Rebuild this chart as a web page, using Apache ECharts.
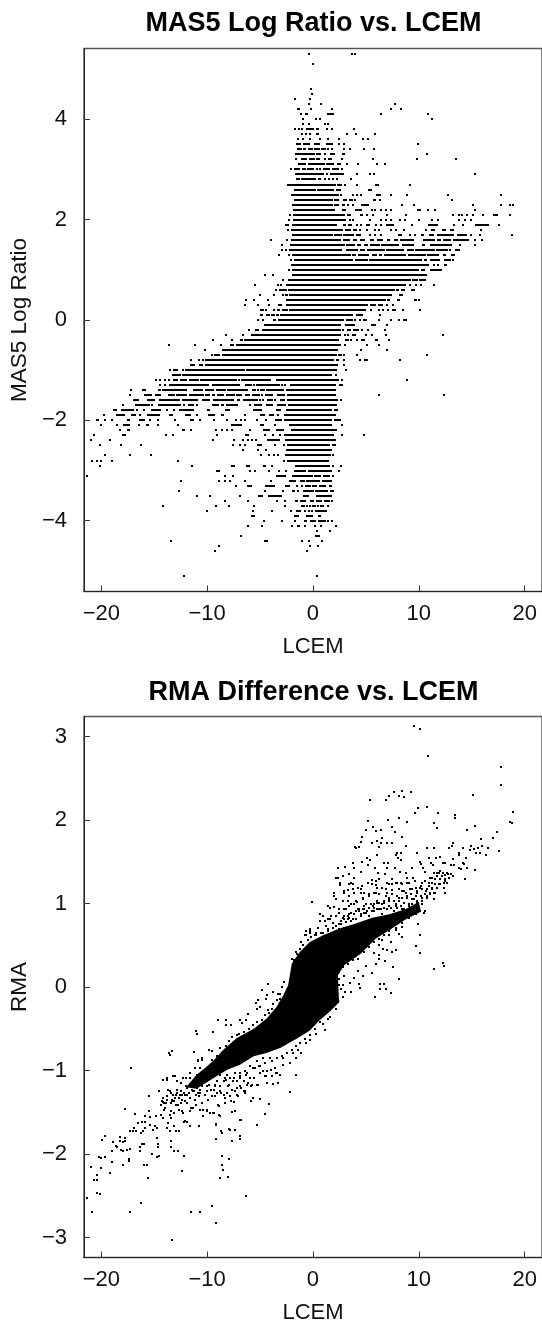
<!DOCTYPE html>
<html>
<head>
<meta charset="utf-8">
<title>MAS5 and RMA vs. LCEM</title>
<script src="https://cdn.jsdelivr.net/npm/echarts@6/dist/echarts.min.js"></script>
<style>
  html, body { margin: 0; padding: 0; background: #fff; }
  #chart { width: 542px; height: 1325px; }
</style>
</head>
<body>
<div id="chart"></div>
<script>
const xTicks = [-20, -10, 0, 10, 20];
const topYTicks = [-4, -2, 0, 2, 4];
const bottomYTicks = [-3, -2, -1, 0, 1, 2, 3];

// top panel: log ratios come in 0.1 steps, so every row is [level, from, to, from, to, ...]
const topStripes = [
  [4.2, -1.5, -1.25], [4.1, -0.8, -0.45, 1.3, 1.95],
  [3.8, -0.7, 0.05, 0.25, 0.55], [3.7, 0.25, 0.55],
  [3.5, -1.6, -1.15, -0.95, -0.3, 0.05, 0.7, 1.25, 1.9],
  [3.4, -1.55, -1.05, -0.95, -0.65, -0.5, 0, 0.05, 0.7, 0.8, 1.2, 2.8, 3.05],
  [3.3, -1.7, 0.15, 0.25, 0.55, 1.65, 2.05, 2.7, 3],
  [3.2, -1.7, -1.55, -1.15, -0.6, -0.4, 0.15, 0.25, 0.7, 1, 1.25, 1.45, 1.75],
  [3.1, -1.45, -0.65, -0.5, 1.1, 1.2, 1.95, 2.3, 2.6],
  [3.0, -1.8, -1.25, -1.05, -0.7, -0.55, 0.05, 0.25, 0.45, 0.55, 0.8, 0.9, 1.65, 1.75, 2.5],
  [2.9, -1.7, 1, 1.2, 1.45, 1.65, 2.7],
  [2.8, -1.6, -1.25, -1.15, 0.3, 0.45, 0.8, 1, 1.2],
  [2.7, -2.1, 2.2, 2.3, 2.7, 5.9, 6.25],
  [2.6, -1.8, 0.25, 0.35, 1.95, 2.2, 2.6, 5.2, 5.6],
  [2.5, -2.1, 2.5, 6, 6.45],
  [2.4, -1.8, 1.85, 1.95, 2.5, 5.7, 6],
  [2.3, -2, 1.85, 1.95, 2.5, 2.7, 3, 4.55, 5.3],
  [2.2, -1.9, 2.1, 2.7, 3.15, 4, 4.65, 9.8, 10.2],
  [2.1, -1.9, 3.05, 3.25, 3.6, 4.45, 4.75, 17, 17.5],
  [2.0, -1.9, 2.9],
  [1.9, -2.65, -2.3, -2, 2.3, 2.8, 3.1, 3.35, 3.7, 5.05, 5.4, 6.9, 7.65, 10.9, 11.8, 15.35, 16.65],
  [1.8, -2.1, 2.8, 3, 3.6, 3.8, 4.2, 11.15, 11.5, 12.2, 12.6, 12.9, 13.3],
  [1.7, -2, 1.85, 1.95, 2.7, 2.8, 3.9, 4.1, 4.55, 8, 8.4, 10.2, 10.5, 10.95, 11.4, 11.9, 13.3, 13.65, 14.6],
  [1.6, -2.1, 2.6, 2.8, 3.45, 3.8, 4.2, 4.4, 4.95, 5.4, 5.8, 6.05, 6.6, 6.95, 7.3, 7.65, 8, 8.2, 9.55, 10.4, 11.5, 11.7, 12.05, 12.25, 13, 13.2, 14.7],
  [1.5, -2.2, 3.05, 3.15, 4, 4.2, 4.55, 4.85, 5.2, 5.4, 6.35, 6.45, 8.1, 8.4, 9.55, 10.3, 10.55, 11.05, 13.1],
  [1.4, -2.25, 2.7, 3.15, 4.3, 4.4, 4.95, 5.1, 6.8, 6.9, 8.6, 8.9, 9.55, 9.6, 11.5, 11.6, 12.45, 12.5, 12.8, 13.4, 13.85],
  [1.3, -2, 3.55, 3.7, 4.1, 4.3, 5.3, 5.6, 6.05, 6.25, 6.55, 6.7, 8.8, 9, 10.65, 10.75, 11.7, 12.25, 12.6, 13, 13.4],
  [1.2, -1.8, 3.75, 4, 5.2, 5.3, 10.3, 10.45, 10.75, 11.1, 11.8, 12.35, 13],
  [1.1, -2.05, 10.95, 11.3, 11.5, 12.35, 12.7],
  [1.0, -2, 10, 10.2, 10.6, 11.1, 12.15],
  [0.9, -2, 10.75],
  [0.8, -2.4, 9.25, 9.35, 9.9, 10, 10.65],
  [0.7, -2.55, 8.8],
  [0.6, -3.2, -2.5, -2.4, 7.75, 7.85, 8.1, 8.3, 8.7, 9.25, 9.6],
  [0.5, -2.95, -2.75, -2.6, -2.4, -2.25, 7.5, 8.15, 8.5],
  [0.4, -2.55, 6.9, 7, 7.3, 7.95, 8.2, 9.55, 9.8],
  [0.3, -3.3, -2.95, -2.55, 5.2, 5.4, 5.95, 6.15, 6.6],
  [0.2, -5, -4.6, -3.4, -3.1, -2.95, -2.4, -2.3, 4.85, 7.45, 7.85],
  [0.1, -5, -4.75, -4.44, -4.06, -3.94, -3.59, -3.5, -3.22, -3.13, 3.75, 4.1, 4.7],
  [0, -3.78, -3.5, -3.31, 2.97, 3.16, 3.81, 4.75, 5.13, 8.5, 8.88],
  [-0.1, -4.44, 2.6, 3.06, 4, 5.5, 5.97],
  [-0.2, -5.47, -5.09, -4.81, 2.6, 2.7, 2.97, 3.25, 3.63, 3.81, 4.38],
  [-0.3, -5.84, 2.6, 2.9, 3.06, 3.25, 3.44, 3.72, 4.1],
  [-0.4, -6.88, -6.63, -6.5, 2.5, 3.06, 3.44, 4.56, 4.94, 5.88, 6.16],
  [-0.5, -7.81, -7.5, -7.25, 2.6, 2.9, 3.06],
  [-0.6, -8.56, 2.4],
  [-0.7, -9.38, -8.75, -8.56, 2.3, 2.4, 2.7],
  [-0.8, -10.25, 2.03, 2.2, 2.5, 4.84, 5.22],
  [-0.9, -11.66, -11.13, -10.81, -10.44, -10.25, 2.4],
  [-1.0, -13.25, -12.78, -12.13, -6.47, -6.31, 2.3],
  [-1.1, -13.34, -12.5, -12.41, 1.84, 2.1, 2.3],
  [-1.2, -13.25, -12.75, -12.56, -11.94, -11.75, -10.81, -10.69, -7.16, -6.78, -3.97, -3.5, 2.5],
  [-1.3, -13.63, -10.03, -9.5, -6.88, -6.41, -5.75, -5.38, -3.13, -2.19, 2.2, 2.5, 2.88],
  [-1.4, -16.16, -15.78, -14.66, -14.38, -14.28, -11.94, -11.38, -10.38, -10.25, -9.38, -9.13, -8.19, -8.09, -6.13, -5.81, -5.38, -5, -4.53, -4.44, -2.75, -2.56, 1.94, 2.03, 2.22],
  [-1.5, -15.97, -15.22, -14.94, -14.38, -13.72, -13.06, -12.97, -11.94, -11.75, -10.34, -10.25, -9.69, -9.59, -9.22, -9.03, -8.38, -8.19, -7.34, -7.25, -6.88, -6.41, -5.94, -5.75, -5, -4.53, -3.75, -3.44, -2.66, -2.44, 2.13],
  [-1.6, -17, -16.44, -15.69, -14.94, -14.59, -12.59, -12.41, -10.91, -10.53, -9.69, -9.41, -7.44, -7.16, -6.88, -6.59, -5.19, -4.38, -3.75, -3.13, -2.66, -2.44, 1.75, 1.84, 2.4],
  [-1.7, -16.81, -15.41, -14.66, -12.5, -12.31, -12.13, -11.84, -11.28, -9.59, -8.84, -8.66, -8.38, -8.19, -7.06, -5.56, -4.81, -4.44, -3.75, -3.44, -2.56, -2.34, 2.3],
  [-1.8, -18.88, -18.5, -18.13, -16.88, -15.31, -14.38, -12.69, -11.28, -10.06, -9.69, -8.28, -7.81, -5.66, -4.81, -3.5, -3.03, -2.56, 1.84, 2.03, 2.4],
  [-1.9, -18.59, -17.75, -17.19, -16.72, -15.69, -14.47, -13.63, -13.25, -12.13, -11.56, -9.88, -9.22, -8.66, -8.38, -5, -4.53, -4.16, -3.69, -2.75, 2.22],
  [-2.0, -20.47, -20.19, -17.56, -17.28, -16.41, -15.88, -11.66, -11.28, -3.59, -2.94, -2.75, 1.84, 1.94, 2.6],
  [-2.1, -17.94, -17.28, -15.78, -15.5, -7.72, -6.69, -5, -4.63, -2.28, 1.75],
  [-2.2, -17.56, -17.28, -12.41, -12.13, -4.72, -4.06, -3.5, -2.75, -2.09, 2.3],
  [-2.3, -18.03, -17.66, -6.41, -6.03, -2.75, 1.94],
  [-2.4, -4.34, -3.13, -2.66, 2.13],
  [-2.5, -5.28, -4.81, -2.47, 1.56, 1.75, 2.22],
  [-2.6, -2.56, 1.84],
  [-2.7, -17.38, -17.19, -2.66, 1.66, 1.75, 1.94],
  [-2.8, -2.5, 1.47],
  [-2.9, -7.72, -7.34, -6.31, -5.94, -4.72, -4.44, -1.72, 1.56, 1.75, 2.03],
  [-3.0, -9.13, -8.75, -1.81, -0.63, -0.5, 1.84],
  [-3.1, -3.5, -2.56, -2, -0.03, 0.06, 0.72, 0.9, 1.56, 1.75, 1.94],
  [-3.2, -2.25, -1.56, -1.25, -0.88, -0.63, 0.63, 0.81, 1.84],
  [-3.3, -6.25, -5.75, -4.53, -3.59, -2.66, -2.19, -0.78, -0.22, -0.13, 0.34, 0.53, 1.19, 1.47, 1.75],
  [-3.4, -2.03, -1.72, -0.97, 0.06, 0.16, 1.38, 1.56, 1.94],
  [-3.5, -5.19, -4.69, -4.22, -2.94, -0.97, -0.41, 0.25, 1.75],
  [-3.6, -1.72, -1.44, -1.25, -0.69, -0.31, 0.06, 0.25, 0.81, 1, 1.56],
  [-3.7, -8, -7.81, 0.63, 1],
  [-3.8, -1.56, -1.19, 0.16, 1.28],
  [-3.9, -5.84, -5.47, -1.81, -1.34, -0.69, -0.03, 0.44, 0.72],
  [-4.0, -0.31, 0.25, 0.44, 1.19],
  [-4.1, -1.53, -1.19],
  [-4.3, 0.16, 0.63],
  [-4.4, -4.63, -4.25]
];

// single points of the top panel, [level, x, x, ...]
const topDots = [
  [5.3, -0.4, 3.7, 4], [5.1, 0], [4.6, -0.2], [4.5, -0.1], [4.4, -1.7, -0.3],
  [4.3, -0.4, 0.8, 7.75], [4.2, -0.2, 1.75, 7.4, 8.3], [4.1, -1.15, 6.45, 10.9],
  [4.0, -0.9, 0.25, 0.7, 11.2], [3.9, -0.9, -0.4, 1.1, 1.45],
  [3.8, -1.7, -1.35, -1, 1.3, 1.75, 3.9], [3.7, -1, -0.7, -0.3, 3.25, 4.1, 5.9],
  [3.6, -1.45, -0.9, -0.3, 0.7, 1.45, 2.5, 4.75, 5.2], [3.5, 2.5, 2.9, 9.9],
  [3.4, 1.4, 1.75, 3.45, 4.85, 5.8], [3.3, 0.7, 1.1, 10.75], [3.2, 2.7, 5.7, 9.8, 13.5],
  [3.1, 3.2, 4.3, 6.05, 6.8], [3.0, -2.1, 2.7], [2.9, 2.8, 4.2, 5.4, 5.8, 15.35],
  [2.8, 1.5, 1.85, 2.3, 3.6], [2.7, -2.35, -2.15, 3, 4.2, 9.15], [2.5, 2.6, 3.8, 4.2, 4.5, 7.4, 8.9, 12.8, 17.8],
  [2.4, 2.9, 3.15, 3.45, 3.7, 4, 6.35, 13.1], [2.3, 3.35, 3.8, 8.4, 9.55, 15.15, 17.8, 18.6, 18.9],
  [2.2, 5.6, 5.9, 6.45, 6.9, 7.4, 10.85, 11.5, 15.35],
  [2.1, -2.2, 5.1, 5.7, 7, 8.8, 13.2, 13.75, 14.1, 14.6, 15.15, 16.1, 18.6],
  [2.0, -2.25, 3.05, 3.45, 3.8, 5.4, 6.45, 6.9, 7.4, 8.2, 8.7, 10, 11.2, 11.8, 13.75, 14.4, 14.9],
  [1.9, 4.2, 4.55, 6, 6.45, 9.35, 13.3, 14.2, 17.6], [1.8, -2.35, 4.4, 5.1, 5.9, 6.25, 7.4, 7.85, 8.6, 10.65, 15.9],
  [1.7, 5.4, 5.9, 6.45, 9.15, 9.6, 11.8, 14.9, 15.8, 18.8], [1.6, -3.95, -2.45, 15.35, 16],
  [1.5, -2.95, 13.85, 15.35], [1.4, -2.95, -2.55, 12.9], [1.3, -3.2, -2.25, 11.8],
  [1.2, -2.1, 11.95, 13.2], [1.1, 11.8], [1.0, -2.25], [0.9, -4.5, -3.8], [0.8, -2.85],
  [0.7, -5.45, -3.3, -3, 9.15, 9.7, 10.2, 11.4], [0.6, -3.45], [0.5, -5, -3.7],
  [0.4, -6.3, -5.55, -4.25, 10.05], [0.3, -6.4, -5.2, -4.15, 7, 7.55],
  [0.2, -4.4, -3.7, 4.95, 5.5, 6.25, 6.6, 7.1, 8.5, 10.1], [0.1, 6.35],
  [0, -5.16, -4.72, 4, 4.47, 6.25, 7.38, 8.13], [-0.1, -4.53, 7], [-0.2, -6.09, 4.63, 5.22, 6.81],
  [-0.3, -8.19, -6.59, 5.03, 5.6, 6.9, 12.25], [-0.4, -9.41, -7.63, 3.63, 4.13, 7.19],
  [-0.5, -13.63, -11.19, -8.66, 5.13, 6.25], [-0.6, -10.16, 4.56, 7], [-0.7, -9.59, 2.97, 4.19, 10.75],
  [-0.8, -11.56, -10.81, -10.44, 2.97, 4.47, 8.22], [-0.9, 2.97], [-1.0, -13.53, -12.31, 3.16],
  [-1.2, -14.84, -14.47, -14, -13.63, -6.97, 2.78, 8.88], [-1.3, -14.47, -14, -9.88, -5.56, -2.94, -2.66],
  [-1.4, -17.19, -5.19], [-1.5, -17.28, -6.78, -4.81, 6.25, 12.34], [-1.6, -5, -4.69, -3.56, 2.6],
  [-1.7, -17.94, -15.22, -11, -5.94], [-1.8, -16.63, -16, -13.81, -13.13],
  [-1.9, -19.72, -16.34, -11, -6.41, -3.31],
  [-2.0, -19.63, -18.97, -15.41, -14.66, -13.06, -10.72, -9.31, -8.09, -7.25, -6.78, -6.41, -5.28, -4.44],
  [-2.1, -20, -18.5, -16.44, -14.66, -12.78, -3.59, 2.7], [-2.2, -18.22, -11.56, -9.13, -8.56, -8.09, -7.63, -5.94],
  [-2.3, -20.66, -13.91, -13.25, -9.03, -4.53, -3.78, -3.13, 2.7, 4.84],
  [-2.4, -20.94, -19.16, -9.41, -7.44, -6.59, -6.13, -5.75, -5.38],
  [-2.5, -20.09, -18.13, -16.25, -7.53, -6.88, -6.41, -3.59, -2.75],
  [-2.6, -6.59, -5.19, -4.44], [-2.7, -19.63, -15.31, -4.91, -4.16, -3.69, -3.28],
  [-2.8, -20.84, -20.38, -20, -18.97, -12.78, -2.75], [-2.9, -20.09, -11.47, -3.88, 2.6],
  [-3.0, -5.94, -5.47, -4.16, -3.22, -2.56, -1.16, 2.5], [-3.1, -21.31, -8.28, -7.53],
  [-3.2, -12.5, -8.84, -8.28, -7.81, -6.41, -3.97, -1.16, -0.88], [-3.3, -7.25, -1.5, -1.06],
  [-3.4, -12.69, -4.53, -2.88, -1.44], [-3.5, -11, -9.69, -6.88], [-3.6, -8.28, -6.13, -3.41, -2.66, 1.75],
  [-3.7, -14.19, -9.13, -5.56, -2.66, -1.06, -0.88, -0.59, -0.31, -0.03, 0.16, 0.44, 1.38],
  [-3.8, -9.97, -5.66, -3.88, -2.09, -1.25, -0.78, -0.41, -0.13], [-4.0, -4.63, -2.94, -1.72, -0.78, -0.69, 1.38, 1.75],
  [-4.1, -6.13, -4.81, -2, -0.78, 0.16, 0.72, 2.22], [-4.2, 0.34, 1.56], [-4.3, -6.78],
  [-4.4, -13.44, -1.06, -0.41, 0.81], [-4.5, -8.84, -0.31, 0.44], [-4.6, -9.22, -0.59], [-5.1, -12.22, 0.34]
];

// bottom panel: the solid middle of the cloud, traced round its edge
const blobOutline = [
  [-12, -1.2], [-11, -1.05], [-10.2, -0.97], [-9.4, -0.88], [-8.45, -0.75], [-7.2, -0.61], [-5.6, -0.5], [-4.4, -0.38], [-3.45, -0.24], [-2.8, -0.1], [-2.35, 0.02],
  [-2, 0.28], [-1.25, 0.42], [-0.3, 0.54], [0.95, 0.62], [2.5, 0.7], [4.05, 0.76], [5.6, 0.83], [7.2, 0.87], [8.74, 0.93], [10, 1.02],
  [10.2, 0.9], [8.74, 0.81], [7.2, 0.68], [5.95, 0.58], [4.55, 0.4], [2.95, 0.26], [2.35, 0.14], [2.45, -0.14],
  [2.5, -0.18], [1.55, -0.3], [0.6, -0.4], [-0.3, -0.52], [-1.55, -0.62], [-3.1, -0.73], [-4.4, -0.79], [-5.6, -0.83], [-6.9, -0.93], [-8.1, -0.99], [-9.5, -1.1], [-11, -1.22]
];

const bottomDotsUpper = [
  [9.53, 3.13], [10.09, 3.09], [10.84, 2.77], [17.78, 2.63], [17.78, 2.42], [15.16, 2.3], [18.91, 2.1], [18.63, 1.98], [18.81, 1.96],
  [5.41, 2.24], [6.91, 2.24], [7.19, 2.29], [7.66, 2.34], [8.13, 2.29], [8.41, 2.35], [8.59, 2.27], [9.25, 2.34], [9.91, 2.15], [10.75, 2.16],
  [9.63, 2.08], [11.78, 2.08], [13.38, 2.06], [13.44, 2.02], [5.22, 1.99], [7.09, 2], [8.13, 2.02], [8.88, 1.98], [11.41, 1.97], [15.34, 1.93],
  [14.59, 1.88], [11.69, 1.9], [5.03, 1.88], [5.69, 1.92], [5.97, 1.87], [6.44, 1.88], [7.47, 1.92], [7.75, 1.86], [17.41, 1.86], [17.03, 1.79],
  [8.41, 1.8], [4.66, 1.8], [4.56, 1.74], [6.53, 1.78], [6.06, 1.75], [5.56, 1.73], [6.44, 1.72], [7, 1.73], [7.47, 1.73], [6.25, 1.68], [8.78, 1.69],
  [3.97, 1.68], [4.06, 1.66], [4.38, 1.68], [15.91, 1.77], [16, 1.69], [15.63, 1.67], [14.97, 1.69], [14.88, 1.64], [15.22, 1.65], [15.41, 1.61],
  [15.81, 1.61], [16.38, 1.58], [16.56, 1.66], [17.59, 1.63], [12.81, 1.67], [13.09, 1.69], [13.19, 1.73], [10.75, 1.67], [11.41, 1.66], [14.13, 1.67],
  [9.81, 1.61], [13.75, 1.61], [13.75, 1.58], [14.5, 1.55], [7.94, 1.61], [7.84, 1.58], [8.28, 1.6], [8.03, 1.55], [6.06, 1.58], [5.13, 1.55],
  [4.66, 1.5], [5.41, 1.52], [3.81, 1.49], [2.41, 1.43], [3.06, 1.44], [3.91, 1.42], [5.22, 1.46], [5.88, 1.43], [6.72, 1.48], [7.09, 1.49], [7, 1.43],
  [7.75, 1.43], [8.31, 1.52], [9.34, 1.42], [10.09, 1.5], [10.19, 1.47], [10.38, 1.43], [10.94, 1.54], [11.13, 1.48], [11.31, 1.46], [11.59, 1.54],
  [11.97, 1.56], [12.44, 1.49], [12.25, 1.48], [13.19, 1.53], [14.13, 1.48], [13, 1.46], [13.28, 1.46], [13.75, 1.42], [13.94, 1.41], [14.31, 1.47],
  [14.59, 1.42], [15.34, 1.4], [14.41, 1.29]
];

const bottomDotsRightBand = [
  [10.56, 1.38], [11.41, 1.37], [11.88, 1.37], [12.25, 1.37], [12.63, 1.36], [13, 1.35], [12.81, 1.31], [12.44, 1.34], [13.19, 1.33], [11.25, 1.31],
  [11.72, 1.33], [12.03, 1.29], [12.5, 1.29], [11.25, 1.25], [11.56, 1.23], [12.03, 1.23], [12.34, 1.25], [12.66, 1.25], [10.94, 1.21], [11.25, 1.17],
  [11.56, 1.13], [11.09, 1.13], [11.72, 1.19], [12.34, 1.19], [12.5, 1.12], [11.41, 1.06], [10.31, 1.25], [10.63, 1.27], [10.16, 1.21], [9.69, 1.19],
  [9.38, 1.17], [9.84, 1.15], [10.31, 1.17], [10.78, 1.17], [10.63, 1.11], [10.16, 1.09], [9.69, 1.09], [9.22, 1.11], [8.75, 1.13], [8.91, 1.07],
  [9.38, 1.05], [9.84, 1.03], [10.31, 1.03], [10.78, 1.07], [8.44, 1.07], [7.97, 1.09], [7.5, 1.11], [7.03, 1.13], [8.13, 1.03], [8.59, 1.01],
  [9.06, 0.99], [9.53, 0.97], [10, 0.95], [10.47, 0.89], [7.66, 1.03], [7.19, 1.05], [6.72, 1.03], [6.25, 1.01], [5.78, 0.99], [5.31, 0.95], [4.84, 0.93],
  [4.38, 0.91], [3.91, 0.87], [3.44, 0.83], [2.97, 0.81], [2.5, 0.75], [1.88, 0.71], [1.41, 0.67], [0.78, 0.65], [0.16, 0.62], [-0.31, 0.65], [-0.78, 0.62],
  [-1.09, 0.54], [-1.56, 0.42], [-2.03, 0.34], [4.56, 1.38], [6.16, 1.37], [6.81, 1.35], [8.22, 1.38], [8.78, 1.37], [8.88, 1.31], [9.44, 1.31],
  [3.44, 1.35], [3.91, 1.31], [2.88, 1.33], [2.41, 1.3], [2.13, 1.3], [2.59, 1.24], [2.59, 1.22], [3.63, 1.25], [3.81, 1.23], [5.22, 1.24], [5.59, 1.28],
  [5.97, 1.27], [5.97, 1.22], [6.06, 1.18], [7, 1.24], [7.47, 1.29], [7.47, 1.23], [7.94, 1.24], [8.31, 1.25], [8.41, 1.23], [8.88, 1.24],
  [1.94, 1.12], [2.03, 1.09], [2.97, 1.15], [3.34, 1.16], [3.81, 1.17], [4.28, 1.18], [4.66, 1.21], [4.56, 1.13], [4.84, 1.13], [3.44, 1.09], [2.19, 1.05],
  [2.81, 1.03], [3.28, 1.03], [-0.13, 1.02], [1.38, 0.97], [1.56, 0.95], [1.94, 0.96], [2.5, 0.93], [2.97, 0.94], [3.44, 0.97], [3.91, 0.99], [4.16, 1.02],
  [4.75, 1.05], [5.31, 1.11], [5.78, 1.12], [6.25, 1.11], [6.91, 1.17], [7.5, 1.16], [8.13, 1.17], [8.59, 1.15], [0.63, 0.88], [0.94, 0.85], [1.09, 0.79],
  [1.41, 0.81], [1.72, 0.85], [1.88, 0.77], [1.25, 0.73], [0.47, 0.71], [0.31, 0.65], [-0.31, 0.67], [-0.63, 0.62], [2.97, 0.85], [3.28, 0.81], [3.59, 0.79],
  [4.06, 0.81], [4.53, 0.85], [4.84, 0.89], [5.31, 0.85], [5.78, 0.91], [6.25, 0.93], [6.72, 0.95], [7.19, 0.97], [7.81, 0.97], [8.44, 0.93], [2.5, 0.69], [2.97, 0.71]
];

// closer look at the speckle just above the right arm of the cloud
const bottomDotsRightFringe = [
  [2.8, 0.83], [3.27, 0.85], [3.74, 0.81], [4.21, 0.93], [4.52, 0.87], [4.83, 0.97], [5.15, 0.91], [5.46, 1], [5.77, 0.95], [6.08, 1.03], [6.4, 0.93],
  [6.71, 1.01], [6.86, 1.09], [7.18, 1.03], [7.49, 1.11], [7.8, 1], [8.12, 1.07], [8.43, 1.15], [8.58, 1.01], [8.9, 1.09], [9.21, 1.17], [9.52, 1.05],
  [9.83, 1.13], [10.15, 1.19], [10.3, 1.07], [10.68, 1.15], [10.93, 1.25], [11.24, 1.19], [11.55, 1.29], [11.86, 1.23], [12.18, 1.33], [12.49, 1.27],
  [12.8, 1.35], [11.71, 1.37], [11.08, 1.31], [12.02, 1.39], [3.58, 1], [4.05, 1.03], [4.68, 1.07], [5.3, 1.09], [5.93, 1.13], [6.55, 1.19], [7.18, 1.23],
  [7.8, 1.25], [8.43, 1.23], [9.05, 1.25], [9.68, 1.27], [3.12, 0.93], [2.49, 0.89], [3.9, 1.13], [5.62, 1.23], [6.24, 1.29], [4.52, 1.17], [3.43, 1.23],
  [2.96, 1.13], [2.65, 0.79], [3.12, 0.78], [3.58, 0.89], [3.9, 0.87], [4.37, 0.93], [4.68, 0.93], [5, 0.89], [5.3, 0.85], [5.62, 0.91], [6.08, 0.93],
  [6.55, 0.87], [7.02, 0.93], [7.33, 0.95], [7.65, 0.91], [7.96, 0.95], [8.27, 0.97], [8.58, 0.93], [9.05, 0.97], [9.37, 0.99], [9.83, 1.01], [10.3, 0.99],
  [10.77, 1.09], [11.08, 1.11], [11.4, 1.13], [6.55, 0.56], [7.18, 0.62], [7.8, 0.68], [8.43, 0.72], [6.24, 0.5], [10.15, 0.91], [7.33, 0.54], [8.12, 0.64]
];

// dots hugging the edge of the right half of the solid area
const bottomDotsEdgeRight = [
  [-1.25, 0.46], [-0.94, 0.5], [-0.47, 0.56], [-0.16, 0.6], [0.31, 0.62], [0.94, 0.65], [1.41, 0.69], [2.19, 0.73], [2.66, 0.75], [-1.81, 0.32], [-1.5, 0.4],
  [-0.63, 0.67], [-0.25, 0.69], [0.63, 0.79], [1.56, 0.81], [2.19, 0.85], [2.81, 0.83], [3.44, 0.87], [4.06, 0.91], [4.69, 0.93], [5, 0.99], [5.63, 0.97],
  [6.09, 1.01], [6.56, 0.99], [7.19, 1.07], [2.5, 0.18], [2.81, 0.24], [3.28, 0.28], [3.75, 0.32], [4.22, 0.34], [4.84, 0.42], [5.31, 0.48], [5.78, 0.54],
  [6.25, 0.58], [6.72, 0.62], [7.19, 0.67], [7.81, 0.71], [8.44, 0.77], [9.06, 0.83], [9.69, 0.87], [2.5, 0.1], [2.81, 0.02]
];

const bottomDotsLowerRight = [
  [10.56, 0.91], [9.91, 0.75], [10.09, 0.62], [9.72, 0.49], [10.09, 0.41], [8.41, 0.6], [7.19, 0.62], [7.84, 0.44], [7.47, 0.42], [7, 0.44], [6.63, 0.46],
  [6.25, 0.38], [5.78, 0.41], [6.81, 0.31], [6.25, 0.33], [5.03, 0.25], [5.94, 0.27], [7.56, 0.24], [11.41, 0.22], [12.25, 0.29], [12.34, 0.25], [8.13, 0.1],
  [5.56, 0.17], [4.75, 0.13], [4.28, 0.19], [3.91, 0.11], [2.97, 0.13], [2.5, 0.02], [3.53, 0.05], [4.38, 0.04], [6.34, 0.03], [6.72, 0.03], [6.34, -0.02],
  [6.91, -0.02], [7.38, -0.07], [5.88, -0.12], [4.47, -0.01], [3.63, -0.06], [3.06, -0.06], [2.69, -0.02], [2.81, -0.12]
];

const bottomDotsLower = [
  [-13.34, -3.03], [-9.13, -2.83], [-9.5, -2.62], [-10.63, -2.69], [-11.56, -2.7], [-17.28, -2.7], [-20.84, -2.69], [-16.25, -2.59], [-21.31, -2.53],
  [-6.31, -2.5], [-20.38, -2.47], [-20.09, -2.48], [-15.59, -2.29], [-8.75, -2.29], [-8, -2.28], [-20.66, -2.31], [-20.38, -2.31], [-20.38, -2.25],
  [-19.16, -2.23], [-20.94, -2.16], [-20, -2.17], [-12.41, -2.2], [-8.47, -2.19], [-8.56, -2.13], [-7.91, -2.06], [-8.56, -2.02], [-17.94, -2.13],
  [-17.38, -2.09], [-17.38, -2.06], [-19.63, -2.04], [-20.25, -2.04], [-20, -2.05], [-18.97, -2.1], [-15.94, -2.13], [-15.72, -2.13], [-15.22, -2],
  [-14.75, -2.04], [-14.56, -2.03], [-12.22, -2.02], [-12.75, -1.97], [-13.16, -1.96], [-13.44, -1.85], [-13.44, -1.92], [-14.63, -1.92], [-14.69, -1.88],
  [-14.75, -1.81], [-16.31, -1.92], [-16.31, -1.97], [-15.94, -1.88], [-16.16, -1.88], [-18.59, -1.9], [-18.5, -1.92], [-18.88, -1.86], [-18.97, -1.96],
  [-18.13, -1.95], [-17.94, -1.97], [-17.56, -1.95], [-17.28, -1.94], [-18.22, -1.85], [-17.94, -1.86], [-17.75, -1.85], [-17.75, -1.81], [-18.22, -1.8],
  [-19.63, -1.79], [-19.91, -1.83], [-9.13, -1.82], [-8.56, -1.75], [-8.66, -1.72], [-7.91, -1.7], [-7.34, -1.71], [-7.63, -1.84], [-6.88, -1.82],
  [-6.88, -1.79], [-5.28, -1.65], [-6.78, -1.59], [-4.53, -1.52], [-4.16, -1.4], [-2.19, -1.26], [-1.63, -1.06], [-7.34, -1.49], [-7.63, -1.5],
  [-9.13, -1.64], [-8.84, -1.53], [-9.31, -1.51], [-9.69, -1.51], [-10, -1.47], [-10.44, -1.47], [-10.81, -1.66], [-11.66, -1.66], [-11.94, -1.62],
  [-12.22, -1.62], [-12.69, -1.73], [-12.97, -1.73], [-13.16, -1.67], [-13.53, -1.72], [-13.75, -1.69], [-13.69, -1.63], [-13.44, -1.57], [-14.75, -1.69],
  [-14.94, -1.66], [-15.13, -1.71], [-15.41, -1.65], [-15.88, -1.69], [-16.06, -1.73], [-16.25, -1.75], [-16.72, -1.73], [-17, -1.73], [-17.28, -1.72],
  [-16.88, -1.69], [-16.5, -1.63], [-16.16, -1.62], [-15.88, -1.62], [-15.38, -1.56], [-14.84, -1.54], [-14.38, -1.53], [-14.06, -1.47], [-13.44, -1.49],
  [-13.13, -1.51], [-12.66, -1.47], [-12.34, -1.49], [-11.56, -1.45], [-11.09, -1.41], [-17.75, -1.46], [-16.81, -1.52], [-15.5, -1.31], [-15.88, -1.55],
  [-15.47, -1.49], [-14.38, -1.41], [-14.22, -1.38], [-13.91, -1.39], [-13.44, -1.39], [-12.97, -1.41], [-12.5, -1.39], [-12.13, -1.37]
];

const bottomDotsLeftBand = [
  [-14.53, -1.24], [-14.22, -1.11], [-13.81, -1.09], [-13.06, -1.07], [-13.59, -0.79], [-13.28, -0.77], [-13.5, -0.82], [-17.19, -0.97], [-11.25, -0.78],
  [-11.09, -0.53], [-10.94, -0.56], [-9.44, -0.54], [-8.94, -0.39], [-8.19, -0.4], [-8.19, -0.45], [-7.75, -0.45], [-6.88, -0.39], [-6.69, -0.43],
  [-6.31, -0.4], [-6.13, -0.32], [-5.38, -0.19], [-5.19, -0.16], [-4.81, -0.03], [-4.22, 0.03], [-4.38, -0.1], [-4.44, -0.14], [-3.75, -0.06], [-3.28, -0.08],
  [-3.13, -0.14], [-3.91, -0.26], [-4.13, -0.31], [-5, -0.24], [-5.31, -0.26], [-7.19, -0.57], [-7.97, -0.65], [-8.19, -0.71], [-8.75, -0.73], [-9.84, -0.75],
  [-9.53, -0.77], [-10.47, -0.85], [-10.88, -0.87], [-11.63, -1.09], [-12.03, -1.09], [-11.25, -1.15], [-12.5, -1.15], [-12.81, -1.23], [-12.97, -1.29],
  [-13.44, -1.27], [-13.28, -1.35], [-12.81, -1.27], [-12.34, -1.29], [-11.72, -1.27], [-11.09, -1.29], [-10.63, -1.27], [-10, -1.25], [-9.38, -1.23],
  [-8.75, -1.25], [-8.13, -1.27], [-7.66, -1.23], [-7.19, -1.21], [-6.56, -1.25], [-6.25, -1.17], [-5.78, -1.17], [-5.31, -1.17], [-7.97, -1.17], [-8.44, -1.13],
  [-9.06, -1.13], [-9.69, -1.09], [-10.31, -1.09], [-10.94, -1.05], [-10.63, -0.97], [-10, -1.01], [-9.38, -1.05], [-8.75, -1.05], [-8.13, -1.05], [-7.5, -1.09],
  [-6.88, -1.07], [-6.25, -1.03], [-5.63, -0.97], [-5.31, -0.89], [-4.69, -0.85], [-4.06, -0.85], [-3.44, -0.85], [-2.81, -0.85], [-1.88, -0.79], [-1.41, -0.75],
  [-0.63, -0.67], [-0.31, -0.63], [0.31, -0.56], [1.13, -0.52], [0.69, -0.42], [1.56, -0.36], [2.13, -0.26], [-2.19, -0.91], [-3.59, -0.97], [-4.38, -1.01],
  [-3.91, -1.07], [-3.44, -1.03], [-3.13, -1.05], [-4.38, -1.15], [-3.81, -1.16], [-3.28, -1.15], [-5.63, -1.33], [-5.88, -1.37], [-5, -1.34], [-8.28, -1.39],
  [-8.91, -1.42], [-7.5, -1.38], [-7.19, -1.29], [-6.41, -1.27]
];

// closer look at the speckle under the left arm
const bottomDotsLeftFringe = [
  [-14.28, -1.37], [-13.81, -1.31], [-13.5, -1.25], [-13.35, -1.37], [-13.97, -1.45], [-13.03, -1.33], [-12.72, -1.41], [-12.41, -1.35], [-12.1, -1.29],
  [-11.94, -1.39], [-11.63, -1.33], [-11.32, -1.45], [-11.16, -1.35], [-10.85, -1.27], [-10.53, -1.39], [-10.22, -1.29], [-9.91, -1.35], [-9.6, -1.23],
  [-9.28, -1.31], [-8.97, -1.41], [-8.66, -1.27], [-8.35, -1.33], [-8.03, -1.19], [-7.72, -1.37], [-7.41, -1.25], [-7.1, -1.31], [-6.78, -1.21], [-6.47, -1.25],
  [-6.16, -1.15], [-5.85, -1.19], [-5.53, -1.09], [-5.22, -1.17], [-4.75, -1.01], [-4.44, -1.07], [-3.97, -0.99], [-3.5, -1.03], [-10.69, -1.47], [-10.06, -1.49],
  [-9.44, -1.51], [-8.82, -1.55], [-10.38, -1.55], [-11.63, -1.49], [-12.25, -1.51], [-13.5, -1.53], [-14.13, -1.57], [-13.66, -1.63], [-12.1, -1.61], [-9.13, -1.65],
  [-7.88, -1.71], [-6.94, -1.59], [-11.32, -1.25], [-10.69, -1.23], [-10.06, -1.19], [-9.28, -1.19], [-8.82, -1.19], [-12.56, -1.29], [-13.19, -1.29], [-13.66, -1.23],
  [-14.13, -1.33], [-12.88, -1.13], [-12.25, -1.09], [-11.63, -1.03], [-11.16, -0.97], [-10.53, -0.87], [-13.19, -1.07], [-13.81, -1.11], [-10.85, -0.89], [-5.07, -0.95],
  [-6.94, -1.09], [-6.31, -1.05], [-7.56, -1.13], [-8.19, -1.11]
];

// dots hugging the edge of the left half of the solid area
const bottomDotsEdgeLeft = [
  [-7.66, -0.6], [-7.03, -0.56], [-6.56, -0.54], [-6.09, -0.5], [-5.63, -0.46], [-5.31, -0.42], [-4.84, -0.4], [-4.53, -0.34], [-4.22, -0.28], [-3.75, -0.2],
  [-3.44, -0.16], [-3.13, -0.08], [-2.97, 0], [-2.75, 0.06], [-8.59, -0.79], [-9.06, -0.83], [-9.53, -0.87], [1.41, -0.38], [0.94, -0.44], [0.16, -0.5],
  [-0.31, -0.58], [-0.78, -0.62], [-1.25, -0.67], [-1.56, -0.71], [-2.03, -0.75], [-2.5, -0.79], [-2.97, -0.83], [-3.91, -0.89], [-4.53, -0.91], [-5, -0.95],
  [-5.47, -0.97], [-5.94, -0.95], [-6.41, -1.01], [-6.88, -1.03], [-7.34, -1.03], [-7.81, -1.09], [-8.28, -1.09], [-9.22, -1.17], [-9.84, -1.17], [-10.47, -1.19],
  [-10.94, -1.21], [-11.41, -1.23], [-11.88, -1.21], [-7.19, -1.13], [-6.56, -1.13], [-5.94, -1.09], [-5, -1.03], [-4.53, -1.07], [-2.81, -0.93], [-1.56, -0.85],
  [-1.09, -0.79], [-12.5, -1.25], [-11.88, -1.29], [-11.25, -1.25], [-10.78, -1.31], [-10.16, -1.29], [-9.53, -1.31], [-9.06, -1.27], [-8.44, -1.29], [-7.81, -1.31],
  [-6.88, -1.19], [-10, -1.13], [-10.63, -1.15], [-11.09, -1.17], [-11.56, -1.17], [-12.03, -1.19], [-12.19, -1.27], [-12.66, -1.33], [-13.13, -1.37], [-13.75, -1.35], [-14.06, -1.39]
];

const fontFamily = '"Liberation Sans", Arial, sans-serif';
const topStripeData = topStripes.flatMap((row) => {
  const out = [];
  for (let i = 1; i < row.length; i += 2) out.push([row[i], row[i + 1], row[0]]);
  return out;
});
const topDotData = topDots.flatMap((row) => row.slice(1).map((x) => [x, row[0]]));
const bottomDotData = [
  ...bottomDotsUpper, ...bottomDotsRightBand, ...bottomDotsRightFringe, ...bottomDotsEdgeRight, ...bottomDotsLowerRight,
  ...bottomDotsLower, ...bottomDotsLeftBand, ...bottomDotsLeftFringe, ...bottomDotsEdgeLeft,
];

function minusLabel(value) {
  return String(value).replace("-", "\u2212");
}

// rects are snapped to whole pixels so the marks stay as crisp as the printed dots
function renderStripe(params, api) {
  const a = api.coord([api.value(0), api.value(2)]);
  const b = api.coord([api.value(1), api.value(2)]);
  const x = Math.round(a[0]);
  return {
    type: "rect",
    shape: { x, y: Math.round(a[1]) - 1, width: Math.max(2, Math.round(b[0]) - x), height: 2 },
    style: { fill: "#000" },
  };
}

function renderDot(params, api) {
  const p = api.coord([api.value(0), api.value(1)]);
  return {
    type: "rect",
    shape: { x: Math.round(p[0]) - 1, y: Math.round(p[1]) - 1, width: 2, height: 2 },
    style: { fill: "#000" },
  };
}

function renderBlob(params, api) {
  return {
    type: "polygon",
    shape: { points: blobOutline.map((p) => api.coord(p)) },
    style: { fill: "#000" },
  };
}

function xAxisFor(gridIndex) {
  return {
    type: "value",
    gridIndex,
    min: -21.64,
    max: 21.64,
    name: "LCEM",
    nameLocation: "middle",
    nameGap: 44.5,
    nameTextStyle: { color: "#111", fontSize: 22, fontFamily },
    axisLine: { show: true, onZero: false, lineStyle: { color: "#222", width: 1 } },
    axisTick: { show: true, inside: true, length: 6, customValues: xTicks, lineStyle: { color: "#333", width: 1 } },
    axisLabel: { color: "#111", fontSize: 22, fontFamily, margin: 11.5, customValues: xTicks, formatter: minusLabel },
    splitLine: { show: false },
  };
}

function yAxisFor(gridIndex, limit, ticks, name) {
  return {
    type: "value",
    gridIndex,
    min: -limit,
    max: limit,
    name,
    nameLocation: "middle",
    nameGap: 50,
    nameTextStyle: { color: "#111", fontSize: 22.5, fontFamily },
    axisLine: { show: true, onZero: false, lineStyle: { color: "#222", width: 1 } },
    axisTick: { show: true, inside: true, length: 6, customValues: ticks, lineStyle: { color: "#333", width: 1 } },
    axisLabel: { color: "#111", fontSize: 22, fontFamily, margin: 17, padding: [0, 0, 8, 0], customValues: ticks, formatter: minusLabel },
    splitLine: { show: false },
  };
}

function customSeries(index, renderItem, data, encode) {
  return { type: "custom", xAxisIndex: index, yAxisIndex: index, renderItem, data, encode, animation: false, silent: true };
}

const titleStyle = { color: "#000", fontSize: 27, fontWeight: "bold", fontFamily };
const chart = echarts.init(document.getElementById("chart"), undefined, { renderer: "canvas" });
chart.setOption({
  animation: false,
  backgroundColor: "#fff",
  title: [
    { text: "MAS5 Log Ratio vs. LCEM", left: 313.5, top: 10.5, padding: 0, textAlign: "center", textStyle: titleStyle },
    { text: "RMA Difference vs. LCEM", left: 313.5, top: 679, padding: 0, textAlign: "center", textStyle: titleStyle },
  ],
  grid: [
    { left: 83.5, top: 48.5, width: 460, height: 543, show: true, borderColor: "#555", borderWidth: 1.5 },
    { left: 83.5, top: 716.5, width: 460, height: 543.5, show: true, borderColor: "#555", borderWidth: 1.5 },
  ],
  xAxis: [xAxisFor(0), xAxisFor(1)],
  yAxis: [yAxisFor(0, 5.41, topYTicks, "MAS5 Log Ratio"), yAxisFor(1, 3.24, bottomYTicks, "RMA")],
  series: [
    customSeries(0, renderStripe, topStripeData, { x: [0, 1], y: 2 }),
    customSeries(0, renderDot, topDotData, { x: 0, y: 1 }),
    customSeries(1, renderBlob, [[0, 0]], { x: 0, y: 1 }),
    customSeries(1, renderDot, bottomDotData, { x: 0, y: 1 }),
  ],
});
</script>
</body>
</html>
